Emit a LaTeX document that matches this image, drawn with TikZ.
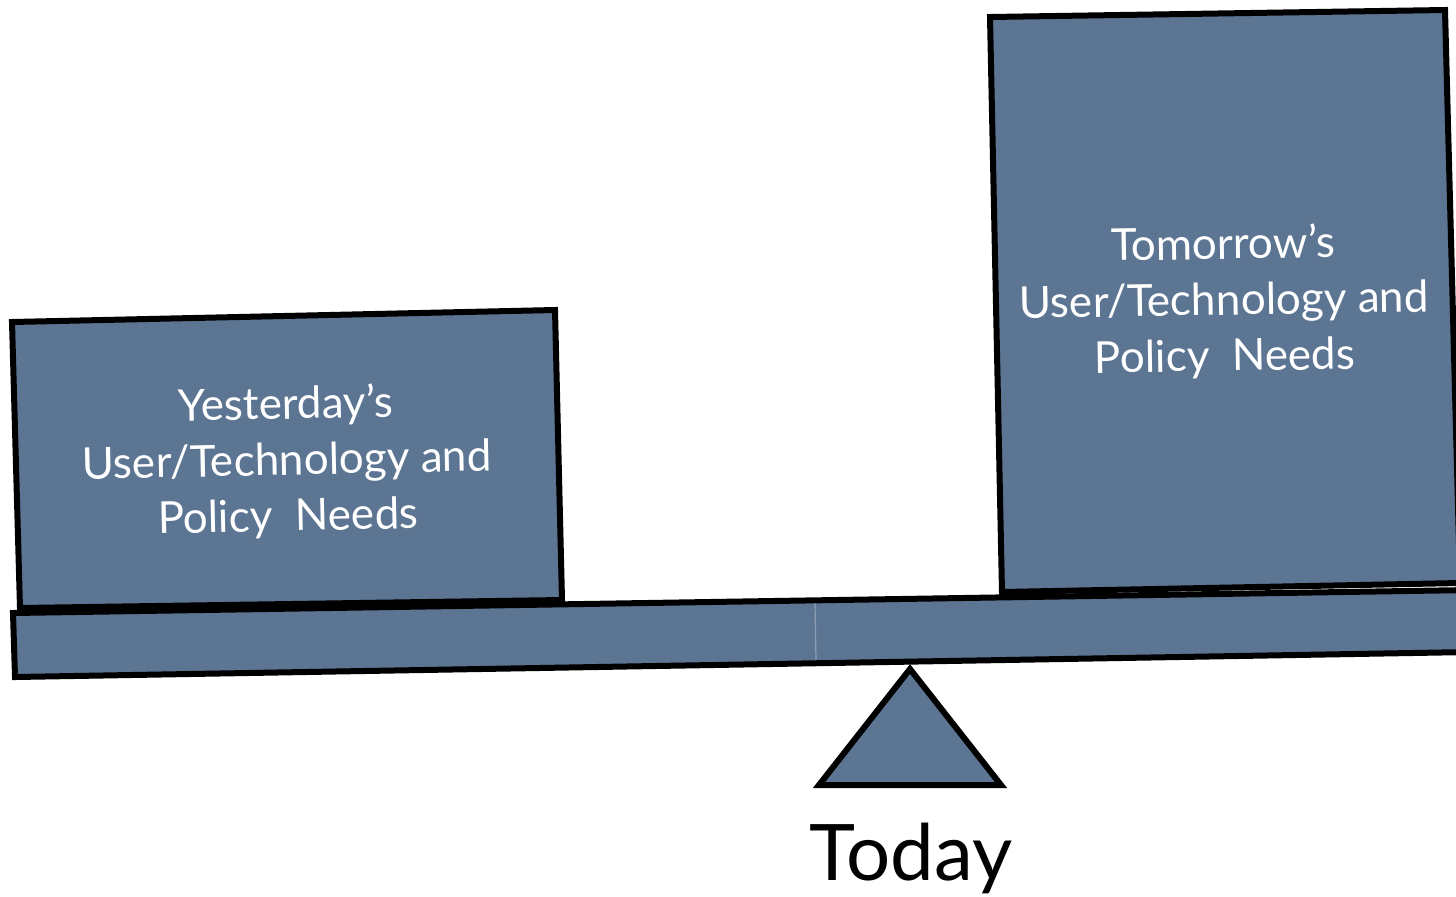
\documentclass[tikz,border=0pt]{standalone}
\usepackage{xcolor}
\usepackage{fontspec}
\setmainfont{Lato}
\definecolor{slate}{RGB}{92,117,147}
\tikzset{
  board/.style={draw=black, fill=slate, line width=3pt, line join=miter},
  needs/.style={text=white, align=center, font=\fontsize{22}{28}\selectfont}
}

\begin{document}
\begin{tikzpicture}[x=0.5pt, y=-0.5pt]
\useasboundingbox (0,0) rectangle (1456,896);
\begin{scope}
\clip (0,0) rectangle (1456,896);
% the two loads
\draw[board] (12,322) -- (555,310) -- (562,600) -- (20,608) -- cycle;
\draw[board] (990,17) -- (1445,10) -- (1460,583) -- (1002,592) -- cycle;
% the plank
\draw[board] (13,613) -- (1470,590) -- (1470,652) -- (15,677) -- cycle;
\draw[white, opacity=0.3, line width=0.6pt] (815,603) -- (816,660);
\end{scope}
% the fulcrum
\draw[board] (910,669) -- (1001,785) -- (819,785) -- cycle;

\node[needs, rotate=1.2] (yesterday) at (287,462) {Yesterday’s\\User/Technology and\\Policy \ Needs};
\node[needs, rotate=0.9] (tomorrow) at (1224,302) {Tomorrow’s\\User/Technology and\\Policy \ Needs};
\node[anchor=base, font=\fontsize{39}{46}\selectfont] (today) at (911,880) {Today};
\end{tikzpicture}
\end{document}
